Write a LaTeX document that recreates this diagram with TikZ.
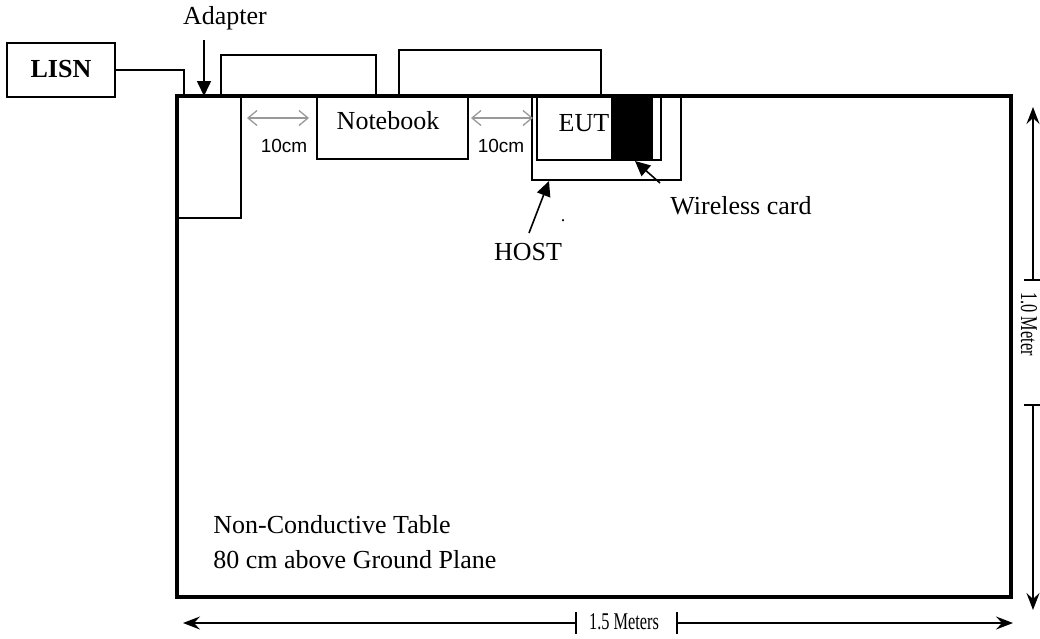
\documentclass[tikz,border=0pt]{standalone}
\usepackage{fontspec}
\setmainfont{Liberation Serif}
\newfontfamily\arialfont{Liberation Sans}
\usetikzlibrary{arrows.meta}
\begin{document}
\begin{tikzpicture}[x=0.5pt,y=-0.5pt,
  box/.style={draw, line width=0.8pt, inner sep=0pt, outer sep=0pt, anchor=north west},
  tablebox/.style={draw, line width=1.9pt, inner sep=0pt, outer sep=0pt, anchor=north west},
  cable/.style={line width=0.75pt},
  lbl/.style={font=\fontsize{13}{15}\selectfont, inner sep=0pt, anchor=base},
  small/.style={font=\arialfont\fontsize{9.5}{11}\selectfont, inner sep=0pt, anchor=base},
  dimtxt/.style={font=\fontsize{12}{14}\selectfont, inner sep=0pt, xscale=0.68},
  pointer/.style={line width=0.8pt, -{Triangle[length=7.5pt,width=7pt]}},
  gaparrow/.style={line width=0.65pt, draw=gray!80, {Straight Barb[length=4.5pt,width=7.5pt]}-{Straight Barb[length=4.5pt,width=7.5pt]}},
  dimarrow/.style={line width=0.65pt, -{Stealth[length=8.5pt,width=6.5pt,inset=3pt]}},
  tick/.style={line width=0.65pt},
]
\useasboundingbox (0,0) rectangle (1040,638);
% table
\node[tablebox, minimum width=417pt, minimum height=250.5pt] (table) at (177,96) {};
% LISN
\node[box, minimum width=54pt, minimum height=27pt] (lisn) at (7,43) {};
\node[lbl, font=\fontsize{13}{15}\selectfont\bfseries] (lisnt) at (61,77) {LISN};
% adapter
\node[box, minimum width=32pt, minimum height=60.5pt] (adapter) at (177,97) {};
\node[lbl] (adaptert) at (225,24) {Adapter};
% notebook
\node[box, minimum width=75.5pt, minimum height=31pt] (notebook) at (317,97) {};
\node[lbl] (notebookt) at (388,129) {Notebook};
% host and EUT
\node[box, minimum width=74.5pt, minimum height=41.5pt] (host) at (532,97) {};
\node[box, minimum width=62pt, minimum height=31.5pt] (eut) at (537,97) {};
\node[box, fill=black, minimum width=20pt, minimum height=31.5pt] (card) at (612,97) {};
\node[lbl] (eutt) at (584,131) {EUT};
\node[lbl] (hostt) at (528,260) {HOST};
\node[lbl] (cardt) at (741,214) {Wireless card};
\node[lbl, font=\fontsize{9}{11}\selectfont] (dot) at (563,221) {.};
% table caption
\node[lbl, anchor=base west] (cap1) at (213,533) {Non-Conductive Table};
\node[lbl, anchor=base west] (cap2) at (213,568) {80 cm above Ground Plane};
% cables
\coordinate (c1) at (184,96);
\draw[cable] (lisn.east) -| (c1);
\coordinate (a1) at (221,96);
\coordinate (n1) at (376,96);
\draw[cable] (a1) -- ++(0,-41) -| (n1);
\coordinate (n2) at (399,96);
\coordinate (e1) at (601,96);
\draw[cable] (n2) -- ++(0,-46) -| (e1);
% pointers
\coordinate (ap0) at (204,40);
\coordinate (ap1) at (204,96);
\draw[pointer] (ap0) -- (ap1);
\coordinate (hp0) at (529,233);
\coordinate (hp1) at (549,181);
\draw[pointer] (hp0) -- (hp1);
\coordinate (wp0) at (660,183);
\coordinate (wp1) at (635,161);
\draw[pointer] (wp0) -- (wp1);
% 10cm gaps
\coordinate (g1a) at (247,118);
\coordinate (g1b) at (309,118);
\draw[gaparrow] (g1a) -- (g1b);
\node[small] (g1t) at (284,152) {10cm};
\coordinate (g2a) at (471,118);
\coordinate (g2b) at (533,118);
\draw[gaparrow] (g2a) -- (g2b);
\node[small] (g2t) at (501,152) {10cm};
% horizontal dimension
\coordinate (hl) at (183,623);
\coordinate (hr) at (1013,623);
\coordinate (ht1) at (576,623);
\coordinate (ht2) at (677,623);
\draw[dimarrow] (ht1) -- (hl);
\draw[dimarrow] (ht2) -- (hr);
\draw[tick] (576,612) -- (576,634);
\draw[tick] (677,612) -- (677,634);
\node[dimtxt] (hdim) at (624,622) {1.5 Meters};
% vertical dimension
\coordinate (vt) at (1033,107);
\coordinate (vb) at (1033,610);
\coordinate (vt1) at (1033,280);
\coordinate (vt2) at (1033,405);
\draw[dimarrow] (vt1) -- (vt);
\draw[dimarrow] (vt2) -- (vb);
\draw[tick] (1024,280) -- (1042,280);
\draw[tick] (1024,405) -- (1042,405);
\node[font=\fontsize{12}{14}\selectfont, inner sep=0pt, yscale=0.68, rotate=-90, anchor=base] (vdim) at (1021,324) {1.0 Meter};
\end{tikzpicture}
\end{document}
